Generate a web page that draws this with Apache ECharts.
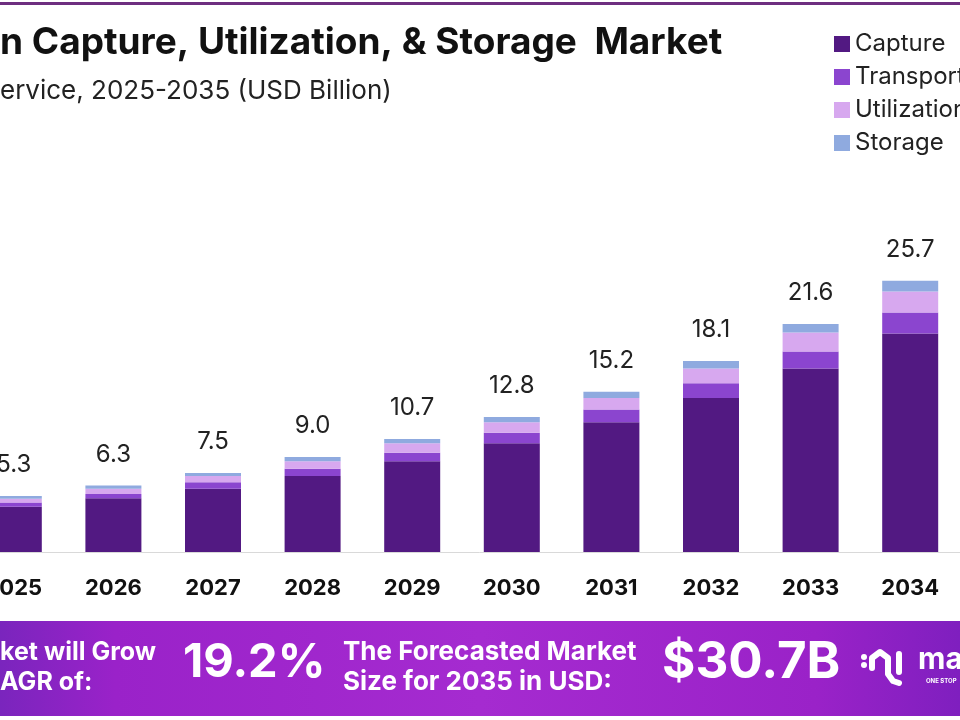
<!DOCTYPE html>
<html>
<head>
    <meta charset="utf-8"/>
    <title>Capture, Utilization & Storage Market</title>
    <script src="https://cdn.jsdelivr.net/npm/echarts@6/dist/echarts.min.js"></script>
    <style>
        html, body { margin: 0; padding: 0; background: #fff; }
        #main { width: 960px; height: 720px; }
    </style>
</head>
<body>
<div id="main"></div>
<script type="text/javascript">
    // data (USD billion)
    var years = ['2025', '2026', '2027', '2028', '2029', '2030', '2031', '2032', '2033', '2034'];
    var capture     = [4.3, 5.1, 6.0, 7.2, 8.6, 10.3, 12.3, 14.6, 17.4, 20.7];
    var transport   = [0.4, 0.4, 0.6, 0.7, 0.8, 1.0, 1.2, 1.4, 1.6, 2.0];
    var utilization = [0.35, 0.5, 0.6, 0.7, 0.9, 1.0, 1.1, 1.4, 1.8, 2.0];
    var storage     = [0.25, 0.3, 0.3, 0.4, 0.4, 0.5, 0.6, 0.7, 0.8, 1.0];
    var totals      = [5.3, 6.3, 7.5, 9.0, 10.7, 12.8, 15.2, 18.1, 21.6, 25.7];

    var font = 'Inter, "Open Sans", sans-serif';
    var myChart = echarts.init(document.getElementById('main'));

    var option = {
        backgroundColor: '#ffffff',
        animation: false,
        legend: {
            orient: 'vertical',
            left: 829,
            top: 27,
            itemWidth: 16,
            itemHeight: 16,
            itemGap: 9,
            icon: 'rect',
            textStyle: { fontFamily: font, fontSize: 24, color: '#222' },
            data: ['Capture', 'Transport', 'Utilization', 'Storage']
        },
        grid: {
            left: -36,
            right: 0,
            top: 130,
            bottom: 168,
            outerBoundsMode: 'none'
        },
        xAxis: {
            type: 'category',
            data: years,
            axisLine: { lineStyle: { color: '#d9d9d9', width: 1 } },
            axisTick: { show: false },
            axisLabel: {
                margin: 25,
                fontFamily: font,
                fontWeight: 'bold',
                fontSize: 22,
                color: '#111'
            }
        },
        yAxis: {
            type: 'value',
            min: 0,
            max: 40,
            show: false,
            splitLine: { show: false }
        },
        series: [
            { name: 'Capture', type: 'bar', stack: 'total', barWidth: 56, data: capture,
              itemStyle: { color: '#521982' } },
            { name: 'Transport', type: 'bar', stack: 'total', data: transport,
              itemStyle: { color: '#8b45cf' } },
            { name: 'Utilization', type: 'bar', stack: 'total', data: utilization,
              itemStyle: { color: '#d7a8ef' } },
            { name: 'Storage', type: 'bar', stack: 'total', data: storage,
              itemStyle: { color: '#8faadf' },
              label: {
                  show: true,
                  position: 'top',
                  distance: 19,
                  fontFamily: font,
                  fontSize: 24,
                  color: '#222',
                  formatter: function (p) { return totals[p.dataIndex].toFixed(1); }
              } }
        ],
        graphic: [
            // top border line
            { type: 'rect', shape: { x: 0, y: 2, width: 960, height: 3 }, style: { fill: '#6e2f80' } },
            { type: 'text', left: 0, top: 24, style: {
                text: 'n Capture, Utilization, & Storage  Market',
                font: 'bold 37px ' + font, fill: '#111' } },
            { type: 'text', left: 0, top: 78, style: {
                text: 'ervice, 2025-2035 (USD Billion)',
                font: '26px ' + font, fill: '#222' } },
            // bottom banner
            { type: 'rect', shape: { x: 0, y: 621, width: 960, height: 95 },
              style: { fill: new echarts.graphic.LinearGradient(0, 0, 1, 0, [
                  { offset: 0, color: '#7a25bd' },
                  { offset: 0.12, color: '#9a22c9' },
                  { offset: 0.5, color: '#a52bd0' },
                  { offset: 0.85, color: '#9a22c8' },
                  { offset: 1, color: '#7f1fbf' }
              ]) } },
            { type: 'text', left: 0, top: 637, style: {
                text: 'ket will Grow\nAGR of:', font: 'bold 25px ' + font, fill: '#fff', lineHeight: 30 } },
            { type: 'text', left: 183, top: 639, style: {
                text: '19.2%', font: 'bold 47px ' + font, fill: '#fff',
                textShadowColor: 'rgba(60,0,90,0.5)', textShadowOffsetX: 2, textShadowOffsetY: 2 } },
            { type: 'text', left: 343, top: 637, style: {
                text: 'The Forecasted Market\nSize for 2035 in USD:', font: 'bold 26px ' + font, fill: '#fff', lineHeight: 30 } },
            { type: 'text', left: 662, top: 637, style: {
                text: '$30.7B', font: 'bold 51px ' + font, fill: '#fff',
                textShadowColor: 'rgba(60,0,90,0.5)', textShadowOffsetX: 2, textShadowOffsetY: 2 } },
            // logo mark
            { type: 'circle', shape: { cx: 864, cy: 657, r: 3 }, style: { fill: '#fff' } },
            { type: 'circle', shape: { cx: 864, cy: 665, r: 3 }, style: { fill: '#fff' } },
            { type: 'polyline', shape: { points: [[872, 668], [872, 658], [880, 652], [888, 658], [888, 674], [893, 681], [899, 683]] },
              style: { stroke: '#fff', lineWidth: 6, lineCap: 'round', lineJoin: 'round', fill: null } },
            { type: 'rect', shape: { x: 896, y: 651, width: 6, height: 24, r: 3 }, style: { fill: '#fff' } },
            { type: 'text', left: 918, top: 645, style: {
                text: 'ma', font: 'bold 30px ' + font, fill: '#fff' } },
            { type: 'text', left: 926, top: 678, style: {
                text: 'ONE STOP', font: 'bold 6px ' + font, fill: '#fff' } }
        ]
    };
    myChart.setOption(option);
</script>
</body>
</html>
